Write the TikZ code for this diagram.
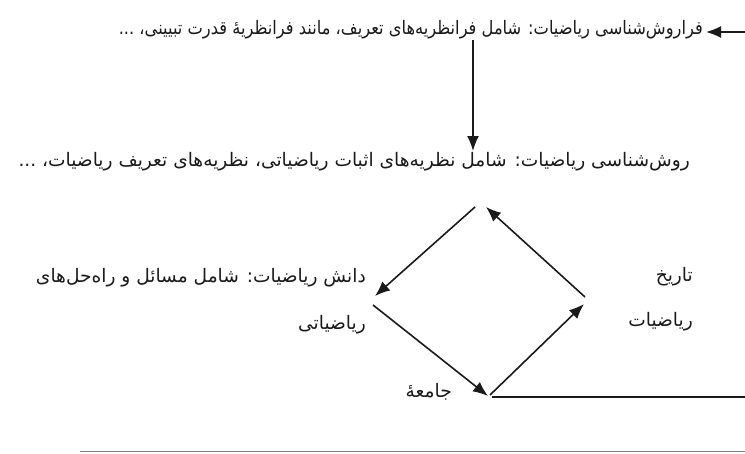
\documentclass[tikz,border=0pt]{standalone}
\usepackage{fontspec}
\usepackage{graphicx}
\usetikzlibrary{arrows.meta}
\TeXXeTstate=1
\newfontfamily\arabicfont[Script=Arabic]{DejaVu Sans}
\definecolor{ink}{HTML}{1A1A1A}
\begin{document}
\begin{tikzpicture}[x=1pt,y=-1pt,
  lbl/.style={inner sep=0pt, anchor=east, text=ink, font=\arabicfont\fontsize{18.6}{22}\selectfont},
  conn/.style={draw=ink, line width=1.6pt},
  arr/.style={conn, -{Latex[length=15pt,width=12pt]}}]
\useasboundingbox (0,0) rectangle (745,453);
% texts
\node[lbl] (meta) at (703,30) {\resizebox{584pt}{\height}{\beginR فراروش‌شناسی ریاضیات: شامل فرانظریه‌های تعریف، مانند فرانظریهٔ قدرت تبیینی، ...\endR}};
\node[lbl] (meth) at (690,162) {\beginR روش‌شناسی ریاضیات: شامل نظریه‌های اثبات ریاضیاتی، نظریه‌های تعریف ریاضیات، ...\endR};
\node[lbl] (know1) at (366,278) {\beginR دانش ریاضیات: شامل مسائل و راه‌حل‌های\endR};
\node[lbl] (know2) at (366,325) {\beginR ریاضیاتی\endR};
\node[lbl] (hist1) at (693,277) {\beginR تاریخ\endR};
\node[lbl] (hist2) at (693,322) {\beginR ریاضیات\endR};
\node[lbl] (soc) at (452,392) {\beginR جامعهٔ\endR};
% coordinates
\coordinate (inR) at (745,32);
\coordinate (inT) at (706,32);
\coordinate (vA) at (473,40);
\coordinate (vB) at (473,151);
\coordinate (topS) at (585,297);
\coordinate (topE) at (486,207);
\coordinate (leftS) at (475,207);
\coordinate (leftE) at (375,296);
\coordinate (botS) at (373,305);
\coordinate (botE) at (488,396);
\coordinate (rgtS) at (490,395);
\coordinate (rgtE) at (584,304);
\coordinate (hA) at (492,397);
\coordinate (hB) at (745,397);
\coordinate (pgA) at (80,451.5);
\coordinate (pgB) at (745,451.5);
% connectors
\draw[arr] (inR) -- (inT);
\draw[arr] (vA) -- (vB);
\draw[arr] (topS) -- (topE);
\draw[arr] (leftS) -- (leftE);
\draw[arr] (botS) -- (botE);
\draw[arr] (rgtS) -- (rgtE);
\draw[conn] (hA) -- (hB);
\draw[draw=gray, line width=1.5pt] (pgA) -- (pgB);
\end{tikzpicture}
\end{document}
